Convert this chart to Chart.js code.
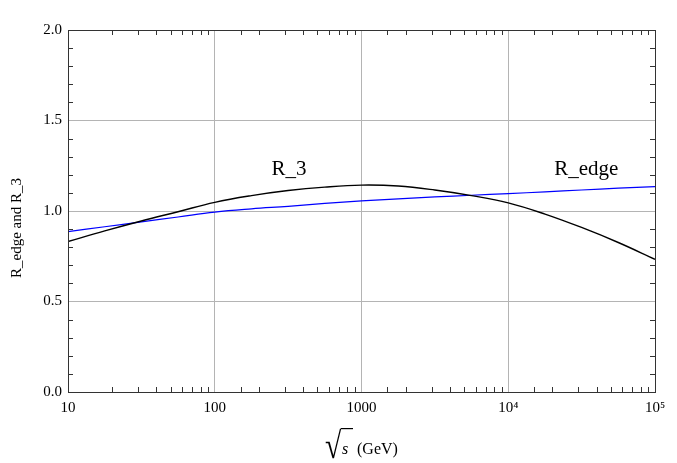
<!DOCTYPE html>
<html>
<head>
<meta charset="utf-8">
<script src="https://cdn.jsdelivr.net/npm/chart.js@4.4.0/dist/chart.umd.min.js"></script>
<style>
  html, body { margin: 0; padding: 0; background: #fff; }
  canvas { display: block; }
</style>
</head>
<body>
<canvas id="myChart" width="677" height="463"></canvas>
<script>
// sqrt(s) in GeV, read at quarter-decade steps
const energies = [10, 17.8, 31.6, 56.2, 100, 178, 316, 562, 1000, 1780, 3160, 5620, 10000, 17800, 31600, 56200, 100000];
const rEdge = [0.886, 0.913, 0.940, 0.967, 0.994, 1.012, 1.026, 1.042, 1.056, 1.067, 1.078, 1.087, 1.096, 1.106, 1.116, 1.126, 1.135];
const r3 = [0.831, 0.890, 0.945, 0.996, 1.048, 1.085, 1.113, 1.132, 1.143, 1.138, 1.116, 1.085, 1.045, 0.983, 0.909, 0.826, 0.733];

// tick labels
const xTickValues = [10, 100, 1000, 10000, 100000];
const xTickLabels = ['10', '100', '1000', '10\u2074', '10\u2075'];
const yTickValues = [0, 0.5, 1, 1.5, 2];
const yTickLabels = ['0.0', '0.5', '1.0', '1.5', '2.0'];

// curve names written inside the plot, placed in data units
const curveLabels = ['R_3', 'R_edge'];
const curveLabelX = [320, 34000];
const curveLabelY = [1.2, 1.2];

const yTitle = 'R_edge and R_3';
const serif = '"Liberation Serif", "Times New Roman", serif';
const gridGray = '#b4b4b4';

const near = (a, b) => Math.abs(a - b) < 1e-6;
const xMajorIndex = v => xTickValues.findIndex(t => near(Math.log10(t), Math.log10(v)));
const yMajorIndex = v => yTickValues.findIndex(t => near(t, v));

// Inward tick marks on all four sides, plus the black frame
const frameTicks = {
    id: 'frameTicks',
    afterDraw(chart) {
        const { ctx, chartArea: a, scales: { x, y } } = chart;
        ctx.save();
        ctx.strokeStyle = '#333';
        ctx.lineWidth = 1;
        ctx.beginPath();
        x.ticks.forEach(t => {
            if (xMajorIndex(t.value) >= 0) return;
            const px = Math.round(x.getPixelForValue(t.value)) + 0.5;
            ctx.moveTo(px, a.bottom); ctx.lineTo(px, a.bottom - 5);
            ctx.moveTo(px, a.top); ctx.lineTo(px, a.top + 5);
        });
        y.ticks.forEach(t => {
            if (yMajorIndex(t.value) >= 0) return;
            const py = Math.round(y.getPixelForValue(t.value)) + 0.5;
            ctx.moveTo(a.left, py); ctx.lineTo(a.left + 5, py);
            ctx.moveTo(a.right, py); ctx.lineTo(a.right - 5, py);
        });
        ctx.stroke();
        ctx.strokeRect(Math.round(a.left) + 0.5, Math.round(a.top) + 0.5,
            Math.round(a.right - a.left), Math.round(a.bottom - a.top));
        ctx.restore();
    }
};

// Curve names and the two axis titles
const textLayer = {
    id: 'textLayer',
    afterDraw(chart) {
        const { ctx, chartArea: a, scales: { x, y } } = chart;
        ctx.save();
        ctx.fillStyle = '#000';

        ctx.font = '21px ' + serif;
        ctx.textAlign = 'center';
        ctx.textBaseline = 'alphabetic';
        curveLabels.forEach((txt, i) => {
            ctx.fillText(txt, x.getPixelForValue(curveLabelX[i]), y.getPixelForValue(curveLabelY[i]));
        });

        // y title, rotated
        ctx.save();
        ctx.font = '15px ' + serif;
        ctx.translate(21, (a.top + a.bottom) / 2 + 17);
        ctx.rotate(-Math.PI / 2);
        ctx.fillText(yTitle, 0, 0);
        ctx.restore();

        // x title: radical sign over an italic s, then (GeV)
        ctx.textAlign = 'left';
        ctx.font = '100px ' + serif;
        const m = ctx.measureText('\u221A');
        const radSize = 100 * 30 / (m.actualBoundingBoxAscent + m.actualBoundingBoxDescent);
        const radTop = 428;
        const radLeft = 325;
        const squeeze = 0.8; // the glyph is a bit wide, narrow it
        ctx.font = radSize.toFixed(1) + 'px ' + serif;
        const rm = ctx.measureText('\u221A');
        const radBase = radTop + rm.actualBoundingBoxAscent;
        ctx.save();
        ctx.translate(radLeft, 0);
        ctx.scale(squeeze, 1);
        ctx.fillText('\u221A', rm.actualBoundingBoxLeft, radBase);
        ctx.restore();
        const barStart = radLeft + (rm.actualBoundingBoxLeft + rm.actualBoundingBoxRight) * squeeze - 1;
        ctx.strokeStyle = '#000';
        ctx.lineWidth = 1.2;
        ctx.beginPath();
        ctx.moveTo(barStart, radTop + 0.6);
        ctx.lineTo(353, radTop + 0.6);
        ctx.stroke();

        ctx.font = 'italic 16px ' + serif;
        ctx.fillText('s', 342, 454);
        ctx.font = '16px ' + serif;
        ctx.fillText('(GeV)', 357, 454);
        ctx.restore();
    }
};

const ctx = document.getElementById('myChart').getContext('2d');
const chart = new Chart(ctx, {
    type: 'line',
    data: {
        datasets: [
            {
                label: 'R_3',
                data: energies.map((e, i) => ({ x: e, y: r3[i] })),
                borderColor: '#000000',
                borderWidth: 1.4,
                pointRadius: 0,
                tension: 0.4,
                fill: false
            },
            {
                label: 'R_edge',
                data: energies.map((e, i) => ({ x: e, y: rEdge[i] })),
                borderColor: '#0000ff',
                borderWidth: 1.2,
                pointRadius: 0,
                tension: 0.4,
                fill: false
            }
        ]
    },
    options: {
        responsive: false,
        animation: false,
        layout: { padding: { top: 30, right: 22, left: 0, bottom: 0 } },
        plugins: {
            legend: { display: false },
            tooltip: { enabled: false }
        },
        scales: {
            x: {
                type: 'logarithmic',
                min: 10,
                max: 100000,
                afterFit: s => { s.height = 71; },
                border: { display: false },
                grid: {
                    drawTicks: false,
                    color: c => (c.tick && xMajorIndex(c.tick.value) >= 0) ? gridGray : 'transparent'
                },
                ticks: {
                    autoSkip: false,
                    maxRotation: 0,
                    padding: 7,
                    color: '#000',
                    font: { family: serif, size: 15 },
                    callback: v => {
                        const i = xMajorIndex(v);
                        return i >= 0 ? xTickLabels[i] : '';
                    }
                }
            },
            y: {
                min: 0,
                max: 2,
                afterFit: s => { s.width = 68; },
                border: { display: false },
                grid: {
                    drawTicks: false,
                    color: c => (c.tick && yMajorIndex(c.tick.value) >= 0) ? gridGray : 'transparent'
                },
                ticks: {
                    stepSize: 0.1,
                    autoSkip: false,
                    padding: 6,
                    color: '#000',
                    font: { family: serif, size: 15 },
                    callback: v => {
                        const i = yMajorIndex(v);
                        return i >= 0 ? yTickLabels[i] : '';
                    }
                }
            }
        }
    },
    plugins: [frameTicks, textLayer]
});
</script>
</body>
</html>
